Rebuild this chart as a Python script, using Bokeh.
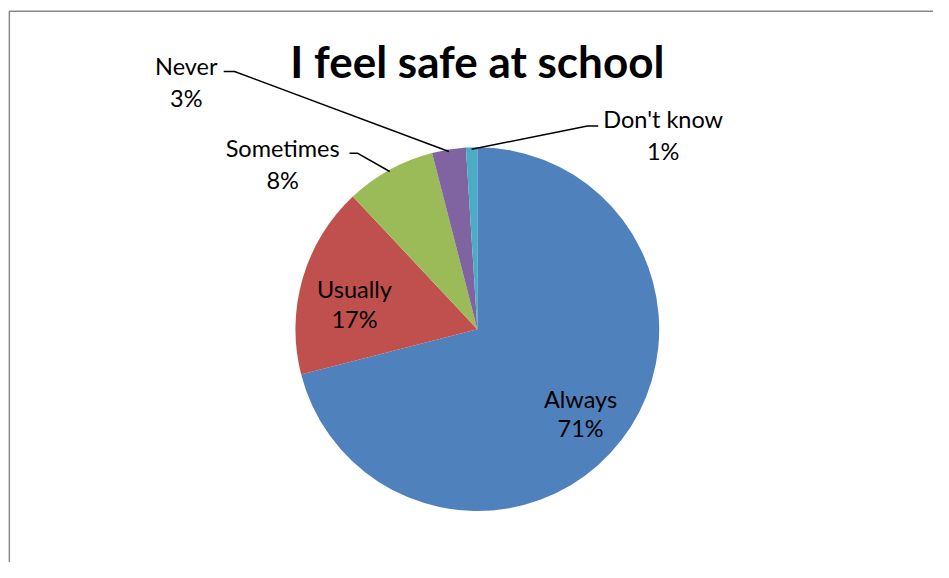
import math
from bokeh.plotting import figure
from bokeh.models import Range1d, ColumnDataSource
from bokeh.core.properties import value
from bokeh.embed import file_html
from bokeh.resources import INLINE

# ---- data ----
categories = ["Always", "Usually", "Sometimes", "Never", "Don't know"]
percents = [71, 17, 8, 3, 1]
colors = ["#4F81BD", "#C0504D", "#9BBB59", "#8064A2", "#4BACC6"]
title_text = "I feel safe at school"

# ---- layout: data space spans the reference picture (949 x 578) ----
W, H = 933, 562
RW, RH = 949, 578


def Y(yi):
    return RH - yi


cx, cy, R = 485, Y(338), 185
FONT = "Lato"
LABEL_SIZE = "23.5px"

p = figure(width=W, height=H, output_backend="svg", toolbar_location=None,
           x_range=Range1d(0, RW), y_range=Range1d(0, RH),
           min_border=0, outline_line_color=None)
p.axis.visible = False
p.grid.visible = False
p.background_fill_color = "white"
p.border_fill_color = "white"

# chart frame
p.line(x=[9, 9, RW + 5], y=[Y(RH + 5), Y(11), Y(11)],
       line_color="#898989", line_width=1.5)

total = float(sum(percents))
starts, ends, mids = [], [], []
cum = 0.0
for v in percents:
    a0 = math.pi / 2 - 2 * math.pi * cum / total
    cum += v
    a1 = math.pi / 2 - 2 * math.pi * cum / total
    starts.append(a0)
    ends.append(a1)
    mids.append((a0 + a1) / 2)

src = ColumnDataSource(dict(start=starts, end=ends, color=colors,
                            cat=categories, pct=percents))
p.wedge(x=cx, y=cy, radius=R, start_angle="start", end_angle="end",
        direction="clock", fill_color="color", line_color=None, source=src)

# labels: (center x, line1 y, line2 y, leader elbow) in reference coords
label_pos = {
    "Always": (590, 410, 440, None),
    "Usually": (360, 297, 328, None),
    "Sometimes": (287, 152, 185, (355, 363, 157)),
    "Never": (189, 67, 100, (227, 238, 73)),
    "Don't know": (674, 122, 155, (608, 597, 129)),
}

for i, cat in enumerate(categories):
    lx, ly1, ly2, leader = label_pos[cat]
    p.text(x=[lx], y=[Y(ly1)], text=[cat], text_align="center",
           text_baseline="middle", text_font=value(FONT),
           text_font_size=LABEL_SIZE, text_color="black")
    p.text(x=[lx], y=[Y(ly2)], text=[f"{percents[i]}%"], text_align="center",
           text_baseline="middle", text_font=value(FONT),
           text_font_size=LABEL_SIZE, text_color="black")
    if leader is not None:
        ex = cx + R * math.cos(mids[i])
        ey = cy + R * math.sin(mids[i])
        hx0, hx1, hy = leader
        p.line(x=[hx0, hx1, ex], y=[Y(hy), Y(hy), ey],
               line_color="black", line_width=1.5)

p.text(x=[485], y=[Y(62)], text=[title_text], text_align="center",
       text_baseline="middle", text_font=value(FONT), text_font_style="bold",
       text_font_size="44px", text_color="black")

open("out.html", "w").write(file_html(p, INLINE))
